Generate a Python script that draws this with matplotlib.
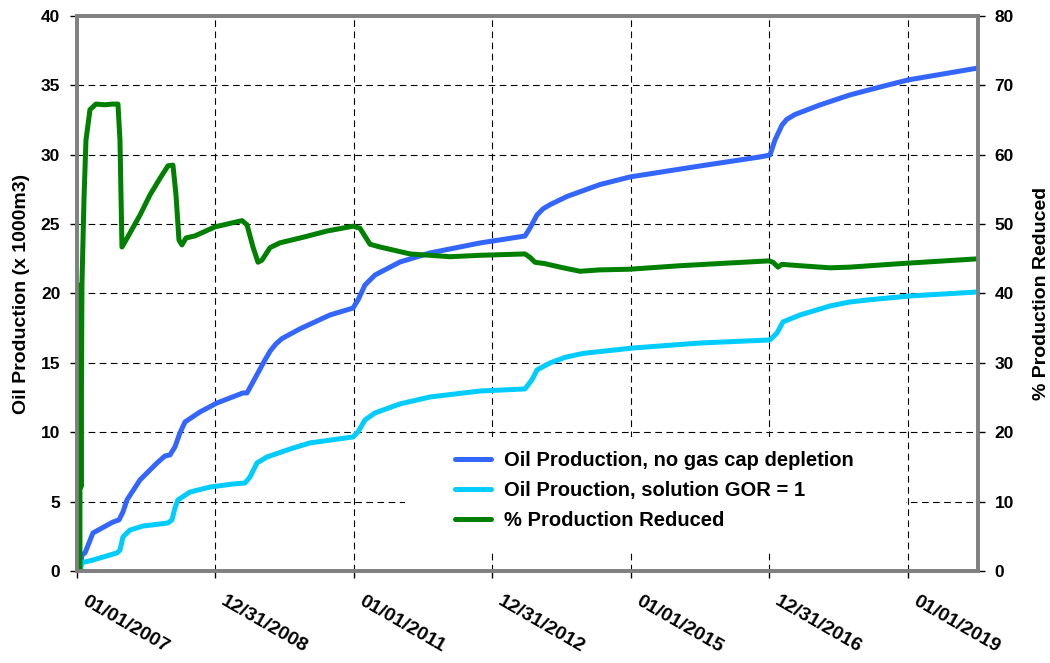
import datetime as dt

import matplotlib
matplotlib.use("Agg")
import matplotlib.pyplot as plt
from matplotlib.patches import Rectangle
from matplotlib.transforms import ScaledTranslation

plt.rcParams["font.family"] = ["Liberation Sans", "DejaVu Sans"]
plt.rcParams["font.weight"] = "bold"

DATE_TICKS = ["01/01/2007", "12/31/2008", "01/01/2011", "12/31/2012",
              "01/01/2015", "12/31/2016", "01/01/2019"]
X_START = "01/01/2007"
X_END = "01/05/2020"

# Oil production, no gas cap depletion (x 1000 m3); time in decimal years
NOCAP_T = [2007.043, 2007.072, 2007.116, 2007.231, 2007.520, 2007.607, 2007.664,
           2007.722, 2007.910, 2008.155, 2008.271, 2008.343, 2008.415, 2008.487,
           2008.560, 2008.776, 2009.022, 2009.397, 2009.455, 2009.542, 2009.715,
           2009.790, 2009.870, 2009.960, 2010.220, 2010.653, 2010.986, 2011.058,
           2011.159, 2011.303, 2011.664, 2012.097, 2012.819, 2013.469, 2013.542,
           2013.643, 2013.730, 2013.830, 2014.080, 2014.552, 2014.986, 2015.996,
           2016.863, 2017.007, 2017.079, 2017.181, 2017.250, 2017.368, 2017.729,
           2018.162, 2018.596, 2019.000, 2020.011]
NOCAP_V = [0.0, 1.15, 1.3, 2.74, 3.53, 3.68, 4.25,
           5.12, 6.56, 7.78, 8.29, 8.36, 8.94, 9.95,
           10.74, 11.46, 12.11, 12.83, 12.83, 13.62, 15.21,
           15.85, 16.35, 16.75, 17.45, 18.45, 18.95, 19.53,
           20.61, 21.33, 22.27, 22.92, 23.64, 24.14, 24.72,
           25.66, 26.10, 26.40, 27.00, 27.85, 28.40, 29.19,
           29.84, 29.98, 31.06, 32.14, 32.55, 32.90, 33.59,
           34.31, 34.88, 35.39, 36.25]

# Oil production, solution GOR = 1 (x 1000 m3)
GOR_T = [2007.043, 2007.072, 2007.116, 2007.231, 2007.578, 2007.621, 2007.664,
         2007.765, 2007.953, 2008.314, 2008.372, 2008.415, 2008.458, 2008.632,
         2008.921, 2009.253, 2009.426, 2009.498, 2009.599, 2009.744, 2010.119,
         2010.365, 2010.986, 2011.058, 2011.159, 2011.303, 2011.664, 2012.097,
         2012.819, 2013.469, 2013.570, 2013.643, 2013.830, 2014.050, 2014.307,
         2015.029, 2015.996, 2017.007, 2017.108, 2017.195, 2017.440, 2017.874,
         2018.150, 2018.451, 2019.029, 2020.011]
GOR_V = [0.0, 0.58, 0.65, 0.79, 1.30, 1.51, 2.45,
         2.95, 3.24, 3.46, 3.68, 4.54, 5.12, 5.69,
         6.05, 6.27, 6.34, 6.77, 7.78, 8.22, 8.86,
         9.23, 9.66, 10.02, 10.88, 11.39, 12.04, 12.54,
         12.97, 13.12, 13.77, 14.49, 14.99, 15.40, 15.68,
         16.07, 16.43, 16.65, 17.15, 17.95, 18.45, 19.10,
         19.38, 19.55, 19.82, 20.11]

# % production reduced (right axis)
REDUCED_T = [2007.043, 2007.043, 2007.058, 2007.072, 2007.101, 2007.130, 2007.188,
             2007.274, 2007.404, 2007.505, 2007.592, 2007.621, 2007.650, 2007.708,
             2007.910, 2008.054, 2008.199, 2008.314, 2008.386, 2008.430, 2008.473,
             2008.516, 2008.574, 2008.704, 2008.993, 2009.383, 2009.455, 2009.542,
             2009.614, 2009.671, 2009.787, 2009.931, 2010.264, 2010.610, 2010.986,
             2011.087, 2011.231, 2011.375, 2011.809, 2012.386, 2012.819, 2013.469,
             2013.542, 2013.614, 2013.758, 2013.975, 2014.264, 2014.552, 2014.986,
             2015.708, 2016.430, 2016.993, 2017.051, 2017.123, 2017.181, 2017.440,
             2017.874, 2018.163, 2018.884, 2020.011]
REDUCED_V = [0.0, 41.2, 12.1, 41.2, 53.5, 62.1, 66.5,
             67.3, 67.2, 67.3, 67.3, 62.1, 46.7, 47.7,
             51.3, 54.2, 56.6, 58.4, 58.5, 54.2, 47.7,
             47.0, 48.0, 48.3, 49.6, 50.5, 49.9, 46.7,
             44.5, 44.8, 46.6, 47.3, 48.1, 49.0, 49.7,
             49.4, 47.1, 46.7, 45.7, 45.3, 45.5, 45.7,
             45.2, 44.5, 44.3, 43.8, 43.2, 43.4, 43.5,
             44.0, 44.4, 44.7, 44.5, 43.8, 44.2, 44.0,
             43.7, 43.8, 44.3, 45.0]

BLUE = "#3366ff"
CYAN = "#00ccff"
GREEN = "#008000"
FRAME = "#808080"


def to_dates(years):
    base = dt.datetime(2007, 1, 1)
    return [base + dt.timedelta(days=(y - 2007) * 365.25) for y in years]


def parse(s):
    return dt.datetime.strptime(s, "%m/%d/%Y")


fig = plt.figure(figsize=(10.5, 6.63), dpi=100)
ax = fig.add_axes([0.0733, 0.1388, 0.8581, 0.8371])
ax2 = ax.twinx()

l1, = ax.plot(to_dates(NOCAP_T), NOCAP_V, color=BLUE, lw=3.6, zorder=3,
              solid_capstyle="round", solid_joinstyle="round",
              label="Oil Production, no gas cap depletion")
l2, = ax.plot(to_dates(GOR_T), GOR_V, color=CYAN, lw=3.6, zorder=3,
              solid_capstyle="round", solid_joinstyle="round",
              label="Oil Prouction, solution GOR = 1")
l3, = ax2.plot(to_dates(REDUCED_T), REDUCED_V, color=GREEN, lw=3.6,
               solid_capstyle="round", solid_joinstyle="round",
               label="% Production Reduced")

ax.set_xlim(parse(X_START), parse(X_END))
ax.set_ylim(0, 40)
ax2.set_ylim(0, 80)
ax.set_yticks(range(0, 41, 5))
ax2.set_yticks(range(0, 81, 10))

tick_dates = [parse(s) for s in DATE_TICKS]
ax.set_xticks(tick_dates)
ax.set_xticklabels(DATE_TICKS, rotation=-30, ha="left", va="top",
                   rotation_mode="anchor", fontsize=14, fontweight="bold")

ax.tick_params(axis="x", direction="out", length=5, width=1, pad=11)
ax.tick_params(axis="y", direction="out", length=5, width=1, pad=7, labelsize=12.5)
ax2.tick_params(axis="y", direction="out", length=5, width=1, pad=7, labelsize=12.5)

# nudge the slanted date labels to start just right of their ticks
shift = ScaledTranslation(8 / 72, 0, fig.dpi_scale_trans)
for lab in ax.get_xticklabels():
    lab.set_transform(lab.get_transform() + shift)

ax.set_axisbelow(True)
ax.grid(True, color="black", lw=0.8, linestyle=(0, (6, 4)), zorder=0.5)

for a in (ax, ax2):
    for s in a.spines.values():
        s.set_color(FRAME)
        s.set_linewidth(2.6)

ax.set_ylabel("Oil Production (x 1000m3)", fontsize=14, fontweight="bold", labelpad=8)
ax2.set_ylabel("% Production Reduced", fontsize=14, fontweight="bold", labelpad=14)

# white panel behind the legend hides the grid there
ax.add_patch(Rectangle((0.364, 0.0324), 0.556, 0.209, transform=ax.transAxes,
                       facecolor="white", edgecolor="none", zorder=1))
ax2.legend(handles=[l1, l2, l3], loc="upper left", bbox_to_anchor=(0.4195, 0.216),
           frameon=False, borderpad=0, fontsize=14.5, handlelength=1.8,
           handletextpad=0.65, labelspacing=0.55, borderaxespad=0)

fig.savefig("out.png", dpi=100)
